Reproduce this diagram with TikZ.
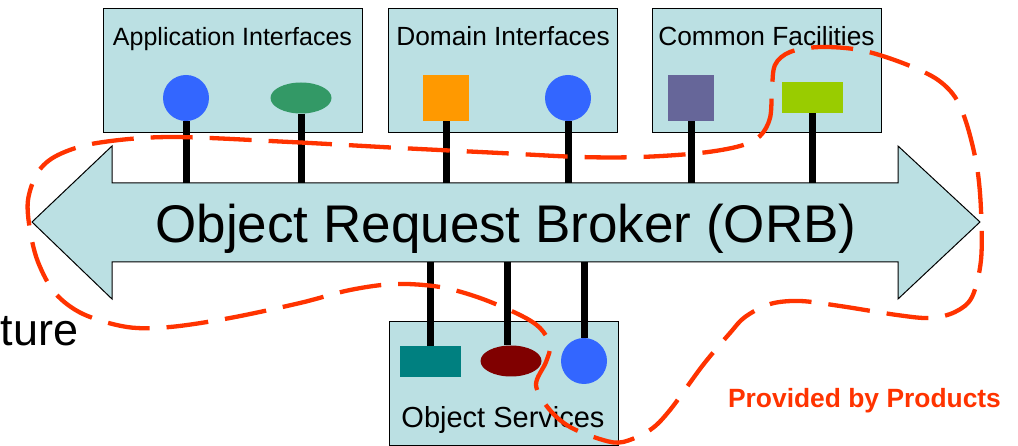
\documentclass[tikz,border=0pt]{standalone}
\usepackage{fontspec}
\setmainfont{Liberation Sans}
\usetikzlibrary{shapes.geometric}
\definecolor{boxfill}{HTML}{BBE0E3}
\definecolor{cblue}{HTML}{3366FF}
\definecolor{cgreen}{HTML}{339966}
\definecolor{corange}{HTML}{FF9900}
\definecolor{cpurple}{HTML}{666699}
\definecolor{clime}{HTML}{99CC00}
\definecolor{cteal}{HTML}{008080}
\definecolor{cdarkred}{HTML}{800000}
\definecolor{cred}{HTML}{FF3300}
\begin{document}
\begin{tikzpicture}[x=1pt,y=-1pt,
  panel/.style={draw=black, line width=1.2pt, fill=boxfill, inner sep=0pt, anchor=north west, minimum width=229pt, minimum height=124pt},
  lbl/.style={font=\fontsize{26.3}{26.3}\selectfont, anchor=base, inner sep=0pt},
  stick/.style={line width=7pt, black},
  dot/.style={circle, fill=#1, inner sep=0pt, minimum size=46pt},
  oval/.style={ellipse, fill=#1, inner sep=0pt, minimum width=61pt, minimum height=31pt},
  sq/.style={rectangle, fill=#1, inner sep=0pt, minimum width=46pt, minimum height=46pt},
  bar/.style={rectangle, fill=#1, inner sep=0pt, minimum width=61pt, minimum height=31pt},
  loop/.style={draw=cred, line width=4.3pt, dash pattern=on 42pt off 17pt}]
\useasboundingbox (0,0) rectangle (1018,446);
\clip (0,0) rectangle (1018,446);

% panels
\node[panel, minimum width=259pt] (app) at (103,8) {};
\node[panel] (dom) at (388,8) {};
\node[panel] (com) at (652,8) {};
\node[panel] (svc) at (389,321) {};

\node[lbl, font=\fontsize{25}{25}\selectfont] (applbl) at (232.5,46) {Application Interfaces};
\node[lbl] (domlbl) at (503,46) {Domain Interfaces};
\node[lbl] (comlbl) at (766.5,46) {Common Facilities};
\node[lbl, font=\fontsize{29}{29}\selectfont] (svclbl) at (503,428) {Object Services};

% ORB arrow
\draw[fill=boxfill, draw=black, line width=1pt]
  (32,222) -- (112,146) -- (112,183) -- (898,183) -- (898,146) -- (980,222)
  -- (898,299) -- (898,262) -- (112,262) -- (112,299) -- cycle;
\coordinate (shafttop) at (0,183);
\coordinate (shaftbot) at (0,262);
\node[font=\fontsize{53}{53}\selectfont, anchor=base, inner sep=0pt] (orb) at (506,243) {Object Request Broker (ORB)};

% objects
\node[dot=cblue] (a1) at (186,98) {};
\node[oval=cgreen] (a2) at (301,98) {};
\node[sq=corange] (d1) at (446,98) {};
\node[dot=cblue] (d2) at (568,98) {};
\node[sq=cpurple] (c1) at (691,98) {};
\node[bar=clime] (c2) at (812.5,97.5) {};
\node[bar=cteal] (s1) at (430.5,361.5) {};
\node[oval=cdarkred] (s2) at (511,361) {};
\node[dot=cblue] (s3) at (584,361) {};

% sticks
\draw[stick] (a1.south) -- (a1.south |- shafttop);
\draw[stick] (a2.south) -- (a2.south |- shafttop);
\draw[stick] (d1.south) -- (d1.south |- shafttop);
\draw[stick] (d2.south) -- (d2.south |- shafttop);
\draw[stick] (c1.south) -- (c1.south |- shafttop);
\draw[stick] (c2.south) -- (c2.south |- shafttop);
\draw[stick] (s1.north) -- (s1.north |- shaftbot);
\draw[stick] ([xshift=-4pt]s2.north) -- ([xshift=-4pt]s2.north |- shaftbot);
\draw[stick] (s3.north) -- (s3.north |- shaftbot);

% left text
\node[font=\fontsize{45}{45}\selectfont, anchor=base west, inner sep=0pt] (ture) at (0.5,346) {ture};

% label
\node[font=\bfseries\fontsize{26.4}{26.4}\selectfont, text=cred, anchor=base, inner sep=0pt] (prov) at (864.5,408) {Provided by Products};

% dashed loop
\draw[loop] plot[smooth cycle, tension=0.55] coordinates {
 (170,137) (290,142) (400,148) (500,153) (580,157) (640,157) (700,153) (740,146)
 (760,136) (770,118) (772,90) (775,65) (790,52) (820,47) (860,50) (900,62)
 (935,78) (955,97) (967,125) (977,167) (981,210) (981,260) (972,297) (955,312)
 (930,318) (897,315) (840,306) (800,301) (770,304) (745,317) (730,333) (703,365)
 (670,410) (650,430) (623,442) (603,440) (570,427) (549,409) (536,385) (546,362)
 (550,345) (540,328) (520,315) (480,298) (440,287) (395,284) (350,290) (300,303)
 (230,318) (170,327) (127,327) (83,314) (55,293) (38,262) (30,230) (28,200)
 (38,172) (58,155) (97,143)};
\end{tikzpicture}
\end{document}
